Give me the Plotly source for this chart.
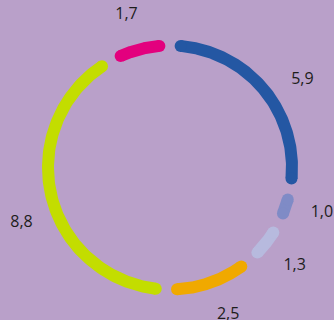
import numpy as np
import plotly.graph_objects as go

# Segment values, clockwise from 12 o'clock
values = [5.9, 1.0, 1.3, 2.5, 8.8, 1.7]
labels = ["5,9", "1,0", "1,3", "2,5", "8,8", "1,7"]
colors = ["#2457a3", "#7f8bc6", "#b7bade", "#f0a900", "#c3dd00", "#e3007e"]

# styling
BG = "#b9a0c9"
PX_PER_UNIT = 122            # ring radius in px
RING_W = 12 / PX_PER_UNIT    # ring thickness in data units
PAD_DEG = 5.0                # angular trim at each end of a segment
LABEL_R = 1.30               # label radius relative to ring radius
label_nudge = [6.5, -2.0, 0.0, -2.0, -7.0, -1.5]  # degrees

total = sum(values)
bounds = np.concatenate([[0], np.cumsum(values)]) / total * 360.0

def xy(theta_deg, r=1.0):
    t = np.radians(theta_deg)
    return r * np.sin(t), r * np.cos(t)

fig = go.Figure()
r_out, r_in = 1 + RING_W / 2, 1 - RING_W / 2
for i, v in enumerate(values):
    a0 = bounds[i] + PAD_DEG
    a1 = bounds[i + 1] - PAD_DEG
    th = np.linspace(a0, a1, 120)
    xo, yo = xy(th, r_out)
    xi, yi = xy(th[::-1], r_in)
    # arc body as a filled band
    fig.add_trace(go.Scatter(x=np.concatenate([xo, xi]), y=np.concatenate([yo, yi]),
                             mode="lines", fill="toself", fillcolor=colors[i],
                             line=dict(width=0, color=colors[i]),
                             hoverinfo="skip", showlegend=False))
    # rounded end caps
    cx, cy = xy(np.array([a0, a1]))
    fig.add_trace(go.Scatter(x=cx, y=cy, mode="markers",
                             marker=dict(color=colors[i], size=12, line=dict(width=0)),
                             hoverinfo="skip", showlegend=False))

# value labels
mid = (bounds[:-1] + bounds[1:]) / 2 + np.array(label_nudge)
lx, ly = xy(mid, LABEL_R)
fig.add_trace(go.Scatter(x=lx, y=ly, mode="text", text=labels,
                         textfont=dict(family="Open Sans", size=16, color="#1d1d1b"),
                         cliponaxis=False, hoverinfo="skip", showlegend=False))

fig.update_layout(
    width=334, height=320,
    margin=dict(l=0, r=0, t=0, b=0),
    paper_bgcolor=BG, plot_bgcolor=BG,
    xaxis=dict(range=[-170 / 122, 164 / 122], visible=False, fixedrange=True),
    yaxis=dict(range=[-152.5 / 122, 167.5 / 122], visible=False, fixedrange=True),
)

fig.write_html("out.html")
